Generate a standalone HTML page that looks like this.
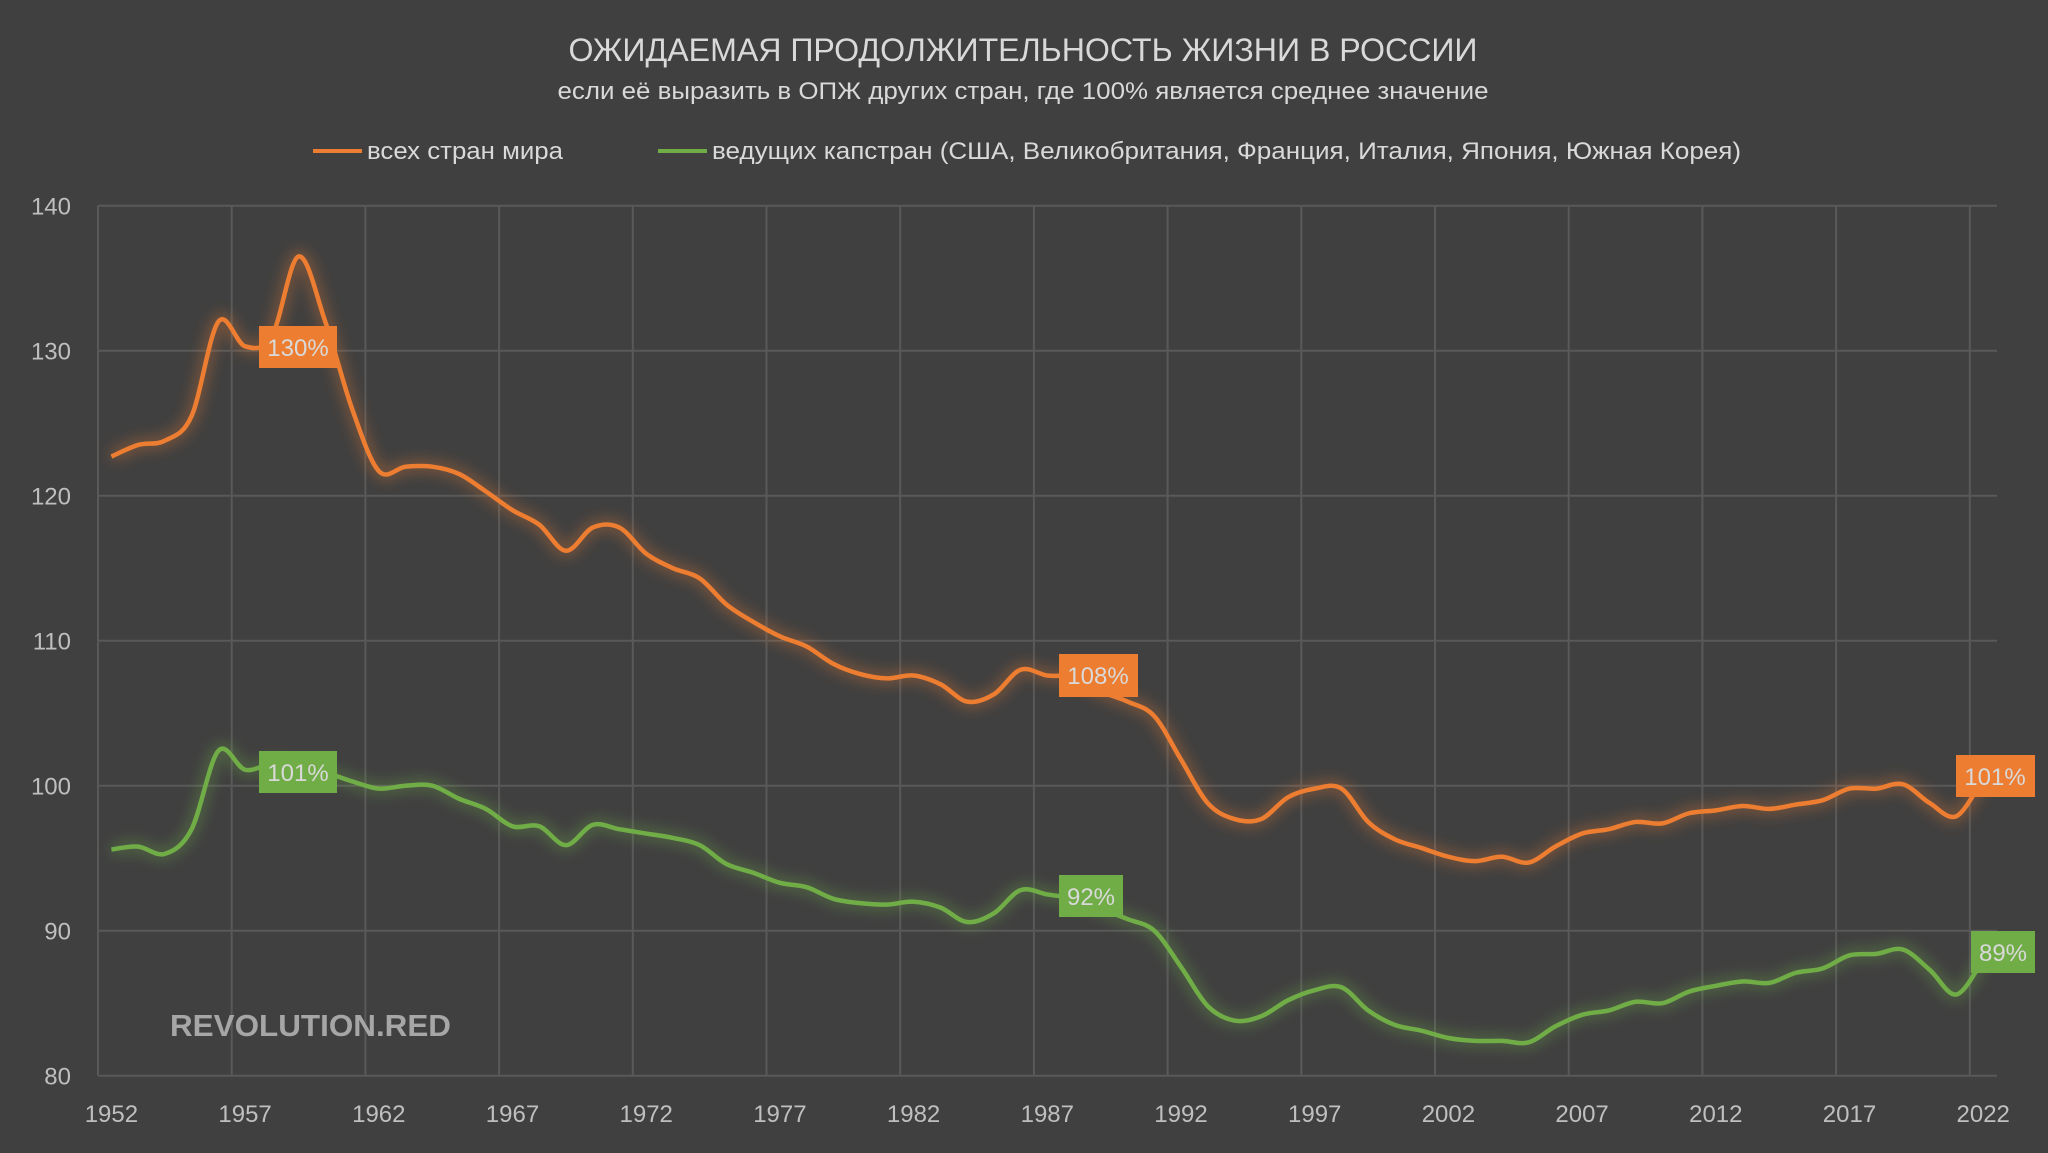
<!DOCTYPE html>
<html><head><meta charset="utf-8"><style>
html,body{margin:0;padding:0;background:#404040;}
svg{display:block;font-family:"Liberation Sans","DejaVu Sans",sans-serif;}
</style></head><body>
<svg id="s" width="2048" height="1153" viewBox="0 0 2048 1153" xmlns="http://www.w3.org/2000/svg">
<defs>
<filter id="glow" x="-10%" y="-10%" width="120%" height="120%"><feGaussianBlur stdDeviation="7"/></filter>
</defs>
<rect width="2048" height="1153" fill="#404040"/>
<text x="1023" y="61" text-anchor="middle" font-size="32" fill="#d9d9d9" textLength="909" lengthAdjust="spacingAndGlyphs">ОЖИДАЕМАЯ ПРОДОЛЖИТЕЛЬНОСТЬ ЖИЗНИ В РОССИИ</text>
<text x="1023" y="99" text-anchor="middle" font-size="24" fill="#d9d9d9" textLength="931" lengthAdjust="spacingAndGlyphs">если её выразить в ОПЖ других стран, где 100% является среднее значение</text>
<line x1="313" y1="151" x2="362" y2="151" stroke="#ed7d31" stroke-width="4"/>
<text x="367" y="159" font-size="24" fill="#d9d9d9" textLength="196" lengthAdjust="spacingAndGlyphs">всех стран мира</text>
<line x1="658" y1="151" x2="707" y2="151" stroke="#70ad47" stroke-width="4"/>
<text x="712" y="159" font-size="24" fill="#d9d9d9" textLength="1029" lengthAdjust="spacingAndGlyphs">ведущих капстран (США, Великобритания, Франция, Италия, Япония, Южная Корея)</text>
<g id="grid"></g>
<g id="series"></g>
<text x="170" y="1036" font-size="31" font-weight="bold" fill="#a6a6a6" textLength="281" lengthAdjust="spacingAndGlyphs">REVOLUTION.RED</text>
<g font-size="24" fill="#d9d9d9" text-anchor="middle">
<rect x="259" y="326" width="78" height="42" fill="#ed7d31"/><text x="298" y="356">130%</text>
<rect x="259" y="751" width="78" height="42" fill="#70ad47"/><text x="298" y="781">101%</text>
<rect x="1059" y="654" width="79" height="43" fill="#ed7d31"/><text x="1098" y="684">108%</text>
<rect x="1059" y="875" width="64" height="42" fill="#70ad47"/><text x="1091" y="905">92%</text>
<rect x="1956" y="755" width="79" height="42" fill="#ed7d31"/><text x="1995" y="785">101%</text>
<rect x="1971" y="931" width="64" height="42" fill="#70ad47"/><text x="2003" y="961">89%</text>
</g>
</svg>
<script>
const NS="http://www.w3.org/2000/svg";
const X=y=>111.4+(y-1952)*26.74, Y=v=>205.7+(140-v)*14.5;
const g=document.getElementById('grid');
function el(t,a,p,txt){const e=document.createElementNS(NS,t);for(const k in a)e.setAttribute(k,a[k]);if(txt)e.textContent=txt;p.appendChild(e);return e;}
for(let v=80;v<=140;v+=10){el('line',{x1:98,x2:1997,y1:Y(v),y2:Y(v),stroke:'#595959','stroke-width':2},g);
el('text',{x:71,y:Y(v)+9,'text-anchor':'end','font-size':24,fill:'#bfbfbf'},g,String(v));}
for(let i=0;i<=14;i++){const x=98+i*5*26.74;el('line',{x1:x,x2:x,y1:205.7,y2:1075.7,stroke:'#595959','stroke-width':2},g);}
for(let yr=1952;yr<=2022;yr+=5)el('text',{x:X(yr),y:1122,'text-anchor':'middle','font-size':24,fill:'#bfbfbf'},g,String(yr));
const o=[122.7,123.5,123.8,125.5,132,130.3,131,136.5,132,126,121.7,122,122,121.5,120.3,119,118,116.2,117.8,117.8,116,115,114.3,112.5,111.3,110.3,109.6,108.4,107.7,107.4,107.6,107,105.8,106.3,108,107.6,107.5,106.5,105.8,104.8,101.8,98.8,97.7,97.7,99.2,99.8,99.8,97.5,96.3,95.7,95.1,94.8,95.1,94.7,95.8,96.7,97,97.5,97.4,98.1,98.3,98.6,98.4,98.7,99,99.8,99.8,100.1,98.8,97.9,100.5];
const gr=[95.6,95.8,95.3,97,102.4,101.1,101.5,101.2,100.9,100.3,99.8,100,100,99.1,98.4,97.2,97.2,95.9,97.3,97,96.7,96.4,95.9,94.6,94,93.3,93,92.2,91.9,91.8,92,91.6,90.6,91.2,92.8,92.5,92.2,91.5,90.8,90,87.5,84.8,83.8,84.1,85.2,85.9,86.1,84.5,83.5,83.1,82.6,82.4,82.4,82.3,83.4,84.2,84.5,85.1,85,85.8,86.2,86.5,86.4,87.1,87.4,88.3,88.4,88.7,87.3,85.6,88];
function path(d){const p=d.map((v,i)=>[X(1952+i),Y(v)]);let s=`M${p[0][0]},${p[0][1]}`;
for(let i=0;i<p.length-1;i++){const a=p[i-1]||p[i],b=p[i],c=p[i+1],e=p[i+2]||c;
s+=` C${b[0]+(c[0]-a[0])/6},${b[1]+(c[1]-a[1])/6} ${c[0]-(e[0]-b[0])/6},${c[1]-(e[1]-b[1])/6} ${c[0]},${c[1]}`;}return s;}
const sg=document.getElementById('series');
[[o,'#ed7d31'],[gr,'#70ad47']].forEach(([d,c])=>{const p=path(d);
el('path',{d:p,fill:'none',stroke:c,'stroke-width':12,opacity:0.35,filter:'url(#glow)'},sg);
el('path',{d:p,fill:'none',stroke:c,'stroke-width':4.5,'stroke-linejoin':'round'},sg);});
</script>
</body></html>
